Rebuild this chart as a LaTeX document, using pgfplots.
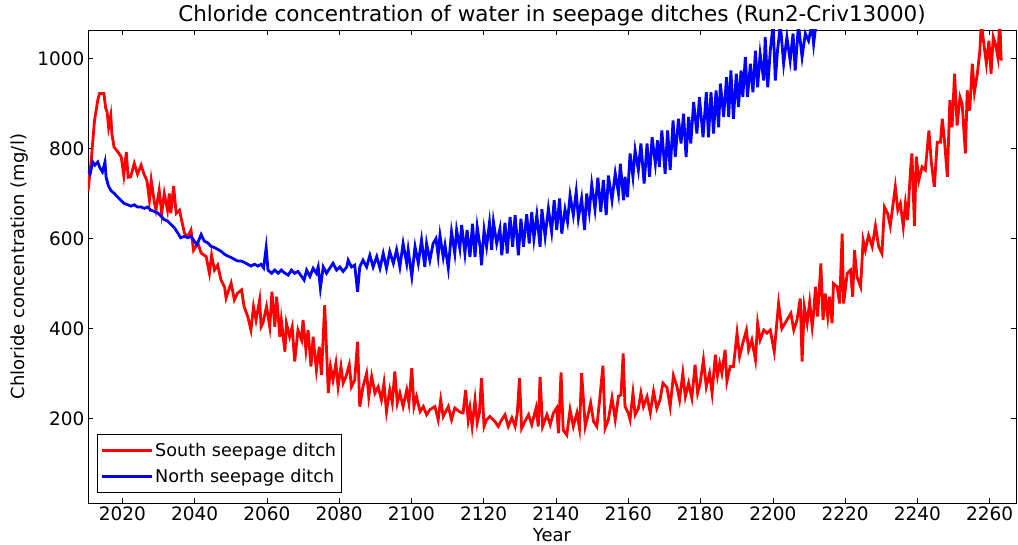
\documentclass[border=0pt]{standalone}
\usepackage{pgfplots}
\pgfplotsset{compat=1.18}
\usepackage{fontspec}
\setmainfont{DejaVu Sans}
\begin{document}
\begin{tikzpicture}
\begin{axis}[
  at={(88pt,41pt)}, anchor=south west,
  scale only axis, width=928pt, height=473pt,
  xmin=2010.5, xmax=2267.3, ymin=13, ymax=1063,
  xtick={2020,2040,...,2260}, ytick={200,400,...,1000},
  /pgf/number format/assume math mode=true,
  /pgf/number format/set thousands separator={},
  tick align=inside, major tick length=5pt,
  tick style={black, line width=0.6pt},
  axis line style={black, line width=0.9pt},
  ticklabel style={font=\fontsize{18.5pt}{22pt}\selectfont},
  title={Chloride concentration of water in seepage ditches (Run2-Criv13000)},
  title style={font=\fontsize{21.5pt}{25pt}\selectfont, at={(axis description cs:0.5,1)}, anchor=south, yshift=-4pt, inner sep=2pt},
  xlabel={Year},
  xlabel style={font=\fontsize{18pt}{21pt}\selectfont, at={(axis description cs:0.5,-0.0677)}, anchor=center},
  ylabel={Chloride concentration (mg/l)},
  ylabel style={font=\fontsize{18pt}{21pt}\selectfont, at={(axis description cs:-0.0733,0.5)}, anchor=center, rotate=0},
  legend style={at={(axis description cs:0.0097,0.021)}, anchor=south west, draw=black, line width=0.8pt,
    font=\fontsize{17.6pt}{20pt}\selectfont, inner xsep=3pt, inner ysep=7pt, row sep=7pt},
  legend cell align=left,
  legend image code/.code={\draw[#1, line width=2.8pt] (0pt,0pt) -- (29pt,0pt); \path (-1pt,0pt) -- (49pt,0pt);},
]
\addplot[red, line width=2.8pt] coordinates {
(2010.5,705)(2011.4,774)(2012.3,862)(2013.2,907)(2013.7,922)(2014.9,922)(2015.4,889)(2015.8,881)(2016.2,847)(2016.8,873)
(2017.1,833)(2017.7,803)(2018.8,792)(2019.7,781)(2020.4,740)(2021.1,792)(2021.6,736)(2022.3,737)(2023.3,767)(2024.2,743)
(2025.2,763)(2026,743)(2026.8,729)(2027.5,685)(2028,729)(2028.9,678)(2029.3,663)(2030.2,707)(2030.9,656)(2031.6,700)
(2032.5,663)(2033,700)(2033.4,656)(2034.2,716)(2034.9,656)(2035.8,663)(2036.4,641)(2037.2,612)(2038.1,604)(2039,619)
(2039.7,574)(2040.9,590)(2041.8,568)(2043.2,560)(2044.1,523)(2044.7,563)(2045.5,530)(2046.4,541)(2047.3,508)(2048.3,492)
(2048.7,468)(2050.1,501)(2051,464)(2051.9,479)(2053,486)(2053.7,449)(2054.7,427)(2055.6,397)(2056.3,449)(2057,419)
(2058,464)(2058.4,404)(2058.9,412)(2059.9,449)(2060.8,404)(2061.4,482)(2062.2,404)(2062.7,471)(2063.6,382)(2064,419)
(2065,349)(2065.4,412)(2066.3,382)(2067,404)(2067.7,327)(2068.6,397)(2069.6,375)(2070,419)(2070.8,353)(2071.4,397)
(2072.2,316)(2072.8,382)(2073.7,308)(2074.5,360)(2075.1,297)(2076,452)(2077,257)(2077.6,316)(2078.3,286)(2079.1,323)
(2079.7,271)(2080.5,316)(2081.1,279)(2081.9,294)(2082.8,320)(2083.4,271)(2084.3,286)(2085.1,371)(2085.7,227)(2086.6,271)
(2087.6,301)(2088.2,249)(2089,294)(2089.9,257)(2090.8,271)(2091.7,242)(2092.4,279)(2093.1,216)(2094,264)(2094.7,235)
(2095.4,305)(2096.1,235)(2096.8,257)(2097.7,227)(2098.7,264)(2099.3,235)(2100.1,312)(2100.7,227)(2101.4,249)(2102.4,216)
(2103.3,227)(2104.2,209)(2105.1,220)(2106.5,227)(2107.4,198)(2108.1,242)(2108.8,205)(2110.2,227)(2111.1,198)(2112,224)
(2113.4,215)(2114.3,213)(2115,264)(2115.7,198)(2116.2,224)(2116.8,183)(2117.6,242)(2118.2,191)(2118.8,213)(2119.4,290)
(2120.1,183)(2120.8,198)(2121.7,205)(2123.1,194)(2124,183)(2125,198)(2125.9,209)(2126.8,183)(2127.8,202)(2128.7,183)
(2129.3,213)(2129.9,290)(2130.5,179)(2131.4,194)(2132.4,209)(2133.3,187)(2134.5,224)(2135.1,183)(2135.6,293)(2136.3,183)
(2137.5,209)(2138.4,187)(2139.3,213)(2140.2,224)(2140.7,168)(2141.4,303)(2142,175)(2143,164)(2143.9,220)(2144.8,183)
(2145.8,213)(2146.5,179)(2147.1,301)(2148.1,183)(2149,213)(2149.6,235)(2150.4,194)(2151.3,183)(2152,235)(2153,318)
(2153.6,179)(2154.5,198)(2155.5,246)(2156.4,198)(2157.3,250)(2158,253)(2158.6,345)(2159.1,227)(2160,213)(2160.5,198)
(2161.3,257)(2161.9,209)(2162.8,223)(2163.5,257)(2164.2,227)(2165.2,249)(2166.1,213)(2167,261)(2167.9,223)(2168.8,242)
(2169.6,279)(2170.7,270)(2171.6,227)(2172.5,296)(2173.5,271)(2174.2,242)(2175.1,301)(2175.8,249)(2176.7,279)(2177.6,246)
(2178.5,320)(2179.2,257)(2179.9,279)(2180.8,331)(2181.6,271)(2182.5,301)(2183.2,257)(2184.1,342)(2184.7,296)(2185.3,323)
(2185.9,301)(2186.8,353)(2187.3,283)(2188.2,316)(2189.1,316)(2190.1,390)(2190.8,338)(2191.7,368)(2192.7,397)(2193.3,353)
(2194.2,375)(2195.2,331)(2195.8,412)(2196.5,375)(2197.5,397)(2198.4,390)(2199.3,397)(2200.4,349)(2201.6,456)(2202.5,400)
(2203.9,419)(2205,434)(2205.8,397)(2206.7,419)(2207.6,467)(2208.1,327)(2208.7,449)(2209.5,412)(2210.2,459)(2210.9,404)
(2211.3,434)(2211.8,493)(2212.4,427)(2213.3,545)(2213.9,419)(2214.5,478)(2215.2,427)(2215.7,471)(2216.4,412)(2216.8,500)
(2217.8,493)(2218.5,456)(2219.2,611)(2219.6,456)(2220.6,523)(2221.5,530)(2222.1,471)(2222.6,574)(2223.3,515)(2224.3,493)
(2225,596)(2225.6,574)(2226.5,607)(2227.5,582)(2228.4,628)(2229.3,582)(2230.2,567)(2230.9,670)(2231.8,655)(2232.5,628)
(2233.3,678)(2233.9,715)(2234.6,663)(2235.3,678)(2236.1,626)(2236.7,678)(2237.3,641)(2238.1,752)(2238.5,789)(2239.2,628)
(2239.7,782)(2240.4,729)(2241.3,759)(2242.2,752)(2243.2,840)(2243.9,767)(2244.7,715)(2245.5,814)(2246.4,814)(2246.9,866)
(2247.5,818)(2248.3,737)(2249,907)(2249.6,847)(2250.3,966)(2251,851)(2251.8,914)(2252.4,899)(2253.3,789)(2253.8,929)
(2254.5,884)(2255.2,988)(2255.8,925)(2256.6,966)(2257.3,1017)(2257.7,1080)(2258.4,1032)(2259.1,988)(2259.8,1039)(2260.4,966)
(2261,1047)(2261.6,1032)(2262.3,1002)(2262.8,1090)(2263.2,995)
};
\addlegendentry{South seepage ditch}
\addplot[blue, line width=2.8pt] coordinates {
(2010.4,751)(2011.1,744)(2011.8,770)(2012.4,763)(2013.2,770)(2013.8,757)(2014.5,748)(2015.2,770)(2015.5,737)(2016.1,718)
(2016.8,707)(2017.8,700)(2018.7,692)(2019.6,685)(2020.5,678)(2021.5,675)(2022.4,672)(2023.3,675)(2024.2,670)(2025.2,670)
(2026.1,667)(2027,670)(2027.9,663)(2028.9,660)(2029.8,657)(2030.7,650)(2031.6,642)(2032.5,639)(2033.5,631)(2034.4,624)
(2035.3,613)(2036.1,602)(2037.2,605)(2038.1,602)(2039,605)(2039.9,594)(2040.7,587)(2041.8,609)(2042.7,594)(2043.6,591)
(2044.5,583)(2045.5,580)(2046.4,576)(2047.3,572)(2048.3,565)(2049.2,561)(2050.1,558)(2051,554)(2051.9,550)(2052.9,550)
(2053.8,547)(2054.7,543)(2055.6,539)(2056.6,543)(2057.5,539)(2058.4,543)(2059.1,535)(2059.8,580)(2060.3,530)(2061.3,523)
(2062.2,530)(2063.1,523)(2064,530)(2065,523)(2065.9,519)(2066.8,530)(2067.7,523)(2068.6,527)(2069.6,516)(2070.3,508)
(2071,530)(2071.9,516)(2072.8,534)(2073.7,523)(2074.2,537)(2074.8,490)(2075.6,537)(2076.5,523)(2077.4,534)(2078.3,545)
(2079.3,530)(2080.2,537)(2081.1,527)(2082.1,537)(2082.5,552)(2083.4,537)(2084.3,541)(2085.1,482)(2085.7,537)(2086.6,552)
(2087.6,537)(2088.5,563)(2089.4,537)(2090.4,560)(2091.3,534)(2092.2,567)(2093.1,534)(2094,571)(2095,545)(2095.9,575)
(2096.8,537)(2097.7,589)(2098.7,545)(2099.1,575)(2100.1,516)(2101,582)(2101.9,545)(2102.8,597)(2103.7,537)(2104.2,589)
(2105.1,552)(2106,589)(2106.8,600)(2107.4,562)(2107.9,607)(2108.8,559)(2109.3,585)(2110.2,534)(2111.1,615)(2112,567)
(2112.5,619)(2113.4,578)(2113.9,630)(2114.8,567)(2115.4,619)(2116.2,559)(2116.9,633)(2117.6,559)(2118.2,626)(2119,582)
(2119.4,541)(2120.1,619)(2120.8,582)(2121.6,635)(2122.2,575)(2122.7,637)(2123.6,589)(2124.5,622)(2125,563)(2125.9,635)
(2126.5,567)(2127.3,648)(2128,582)(2128.7,652)(2129.6,563)(2130.3,644)(2131,582)(2131.9,654)(2132.6,589)(2133.3,659)
(2133.9,600)(2134.7,652)(2135.6,582)(2136.1,665)(2137,604)(2137.9,667)(2138.8,615)(2139.5,685)(2140.2,619)(2141,689)
(2141.6,611)(2142.5,665)(2143.2,637)(2143.9,696)(2144.8,652)(2145.6,704)(2146.2,645)(2147.1,689)(2147.9,619)(2148.5,700)
(2149.2,659)(2149.9,720)(2150.8,665)(2151.6,735)(2152.4,659)(2153.1,730)(2153.9,652)(2154.5,740)(2155.5,685)(2156.4,745)
(2157.3,700)(2157.8,766)(2158.7,685)(2159.1,737)(2159.8,692)(2160.5,789)(2161.3,737)(2161.9,796)(2162.8,752)(2163.5,811)
(2164.4,722)(2165.2,811)(2165.9,737)(2166.6,825)(2167.5,766)(2168.1,818)(2168.6,759)(2169.3,840)(2170.2,744)(2170.9,840)
(2171.6,752)(2172.4,862)(2173,781)(2173.9,866)(2174.6,811)(2175.3,877)(2176,781)(2176.7,870)(2177.3,811)(2178.1,903)
(2179,833)(2179.7,914)(2180.7,825)(2181.6,925)(2182.2,825)(2182.9,925)(2183.6,833)(2184.3,929)(2185,847)(2185.5,944)
(2186.4,870)(2187.2,958)(2187.8,870)(2188.4,973)(2189.1,866)(2189.9,966)(2190.5,892)(2191.2,973)(2191.7,914)(2192.4,1003)
(2193,914)(2193.8,988)(2194.5,925)(2195.2,1017)(2195.8,936)(2196.5,1010)(2197.5,951)(2197.9,1047)(2198.6,936)(2199.3,1017)
(2200.1,1075)(2200.7,951)(2201.3,1017)(2202.1,1075)(2203,988)(2203.9,1047)(2204.8,995)(2205.6,1055)(2206.2,973)(2207.1,1075)
(2208.1,1003)(2209,1055)(2209.9,1039)(2210.8,1075)(2211.3,1032)(2212,1080)(2213,1100)(2220,1150)(2240,1300)(2263,1500)
};
\addlegendentry{North seepage ditch}
\end{axis}
\pgfresetboundingbox
\path (0pt,0pt) rectangle (1018pt,544pt);
\end{tikzpicture}
\end{document}
